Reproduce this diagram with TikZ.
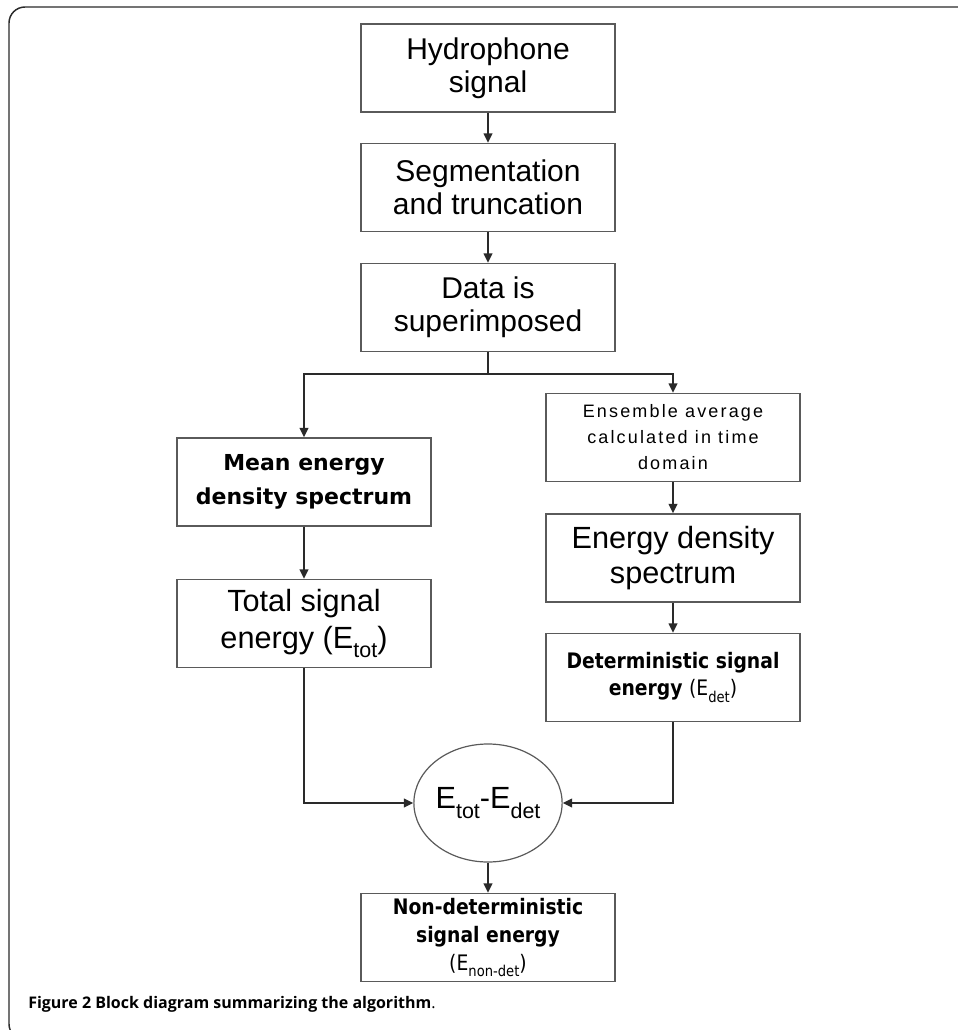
\documentclass[tikz,border=0pt]{standalone}
\usepackage{fontspec}
\setmainfont{Liberation Sans}
\newfontfamily\widefont{DejaVu Sans}
\newfontfamily\narrowfont{DejaVu Sans}[FakeStretch=0.88]
\newfontfamily\spacedfont{Liberation Sans}[LetterSpace=12]
\newfontfamily\captionfont{Open Sans}
\usetikzlibrary{arrows.meta}
\usetikzlibrary{shapes.geometric}
\definecolor{boxgray}{HTML}{5A5A5A}
\definecolor{linegray}{HTML}{2A2A2A}
\newcommand{\lowsub}[1]{\raisebox{-0.3em}{\scalebox{0.7}{#1}}}
\tikzset{stage/.style={draw=boxgray, line width=1.1pt, inner sep=0, minimum width=190.5pt, minimum height=66pt, align=center, font=\fontsize{22.5}{25}\selectfont}}
\tikzset{big stage/.style={stage, font=\fontsize{23}{28}\selectfont}}
\tikzset{bold stage/.style={stage, font=\widefont\bfseries\fontsize{16.5}{26}\selectfont}}
\tikzset{narrow stage/.style={stage, font=\narrowfont\bfseries\fontsize{16}{21}\selectfont}}
\tikzset{thin stage/.style={stage, font=\spacedfont\fontsize{13.5}{19.5}\selectfont}}
\tikzset{merge/.style={ellipse, draw=boxgray, line width=0.9pt, inner sep=0, minimum width=105pt, minimum height=88.5pt, font=\fontsize{23}{25}\selectfont}}
\tikzset{every edge/.style={draw, linegray, line width=1.1pt}}

\begin{document}
\begin{tikzpicture}[x=0.75pt, y=-0.75pt, >={Triangle[length=7pt, width=6.5pt]}]
  \useasboundingbox (0, 0) rectangle (957, 1030);
  \draw[linegray, line width=1.1pt, rounded corners=12pt] (970, 7) -- (9, 7) -- (9, 1040) -- (970, 1040);

  % main stem
  \node[stage] at (488, 68) (hydro) {Hydrophone\\signal};
  \node[stage] at (488, 187.5) (seg) {Segmentation\\and truncation};
  \node[stage] at (488, 307.5) (data) {Data is\\superimposed};
  \draw (hydro) edge[->] (seg);
  \draw (seg) edge[->] (data);
  \coordinate (split) at (488, 374);
  \draw[linegray, line width=1.1pt] (data) -- (split);

  % left branch
  \node[bold stage] at (304, 482) (mean) {Mean energy\\density spectrum};
  \node[big stage] at (304, 623.5) (total) {Total signal\\energy (E\lowsub{tot})};
  \draw[->, linegray, line width=1.1pt] (split) -| (mean);
  \draw (mean) edge[->] (total);

  % right branch
  \node[thin stage] at (673, 437.5) (ens) {Ensemble average\\calculated in time\\domain};
  \node[big stage, font=\fontsize{23}{26}\selectfont] at (673, 558) (eds) {Energy density\\spectrum};
  \node[narrow stage, font=\narrowfont\bfseries\fontsize{16}{20}\selectfont] at (673, 677.5) (det) {Deterministic signal\\energy {\mdseries(E\lowsub{det})}};
  \draw[->, linegray, line width=1.1pt] (split) -| (ens);
  \draw (ens) edge[->] (eds);
  \draw (eds) edge[->] (det);

  % difference and result
  \node[merge] at (488, 803) (diff) {E\lowsub{tot}-E\lowsub{det}};
  \node[narrow stage] at (488, 937.5) (final) {Non-deterministic\\signal energy\\{\mdseries(E\lowsub{non-det})}};
  \draw[->, linegray, line width=1.1pt] (total) |- (diff);
  \draw[->, linegray, line width=1.1pt] (det) |- (diff);
  \draw (diff) edge[->] (final);

  \node[anchor=base west, inner sep=0, font=\captionfont\fontsize{12}{14}\selectfont] at (28, 1008) (caption) {\textbf{Figure 2 Block diagram summarizing the algorithm}.};
\end{tikzpicture}
\end{document}
